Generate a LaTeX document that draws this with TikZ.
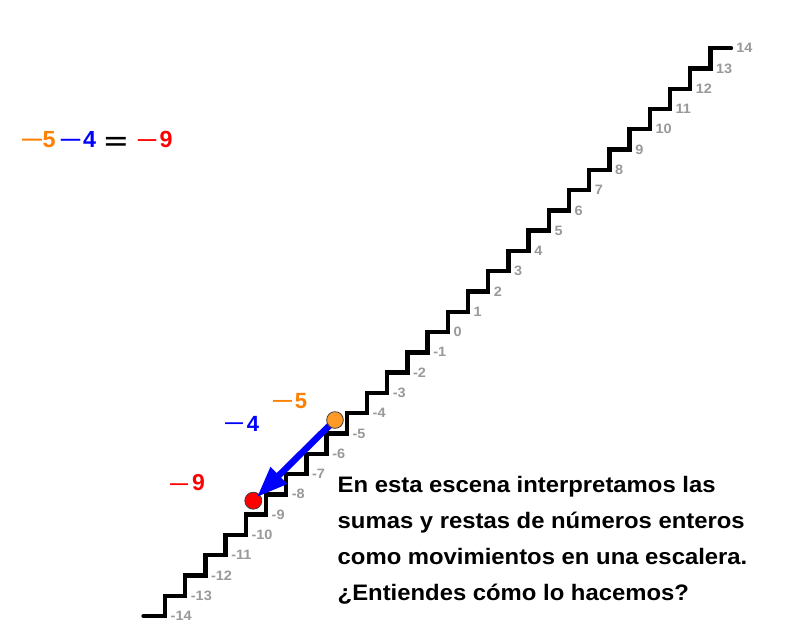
\documentclass[tikz,border=0pt]{standalone}
\usepackage{fontspec}
\usetikzlibrary{arrows.meta}
\newfontfamily\parafont{Liberation Sans}[FakeStretch=1.065]
\newfontfamily\lblfont{Liberation Sans}
\definecolor{eqorange}{RGB}{255,128,0}
\definecolor{dotorange}{RGB}{255,153,40}
\definecolor{eqblue}{RGB}{0,0,255}
\definecolor{eqred}{RGB}{255,0,0}
\definecolor{lblgray}{RGB}{153,153,153}
\tikzset{
  stair/.style={line width=4.4pt, line cap=round, line join=miter},
  steplbl/.style={font=\parafont\bfseries\fontsize{13.6}{13.6}\selectfont, text=lblgray, anchor=base west, inner sep=0pt},
  eqpart/.style={anchor=base, inner sep=0pt},
  eqdigit/.style={eqpart, font=\lblfont\bfseries\fontsize{23.3}{23.3}\selectfont},
  eqminus/.style={eqpart, font=\lblfont\bfseries\fontsize{19.5}{19.5}\selectfont},
  sidedigit/.style={eqpart, font=\lblfont\bfseries\fontsize{22}{22}\selectfont},
  paraline/.style={anchor=base west, inner sep=0pt, font=\parafont\bfseries\fontsize{22.4}{22.4}\selectfont},
  ptdot/.style={circle, inner sep=0pt, minimum size=17pt, draw=black!75, line width=0.8pt},
  vecarrow/.style={draw=eqblue, line width=6.5pt, -{Triangle[length=31pt,width=22pt]}, shorten >=5pt}
}
\begin{document}
\begin{tikzpicture}[x=1pt,y=-1pt]
\path[fill=white] (0,0) rectangle (790,638);
\useasboundingbox (0,0) rectangle (790,638);
% staircase
\draw[stair] (143.5,616)
  \foreach \m in {1,...,28}{ -- ({165+(\m-1)*20.2},{616-(\m-1)*20.28}) -- ({165+(\m-1)*20.2},{616-\m*20.28}) }
  -- (731,{616-28*20.28});
% step labels
\foreach \m in {0,...,28}{
  \pgfmathtruncatemacro\lv{\m-14}
  \node[steplbl] (l\m) at ({165+\m*20.2+5.5},{616-\m*20.28+4.6}) {\lv};
}
% equation
\node[eqminus, text=eqorange, font=\lblfont\bfseries\fontsize{20}{20}\selectfont] (e1) at (32,145.5) {—};
\node[eqdigit, text=eqorange] (e2) at (49,147) {5};
\node[eqminus, text=eqblue] (e3) at (70.5,145.5) {—};
\node[eqdigit, text=eqblue] (e4) at (89.5,147) {4};
\node[eqpart, font=\lblfont\bfseries\fontsize{23.3}{23.3}\selectfont] (e5) at (116,149.5) {\scalebox{1.7}[1]{=}};
\node[eqminus, text=eqred, font=\lblfont\bfseries\fontsize{18.5}{18.5}\selectfont] (e6) at (147,145.5) {—};
\node[eqdigit, text=eqred] (e7) at (166,147) {9};
% side labels
\node[eqminus, text=eqorange, font=\lblfont\bfseries\fontsize{19}{19}\selectfont] (so1) at (282.5,406) {—};
\node[sidedigit, text=eqorange] (so2) at (301,408.5) {5};
\node[eqminus, text=eqblue, font=\lblfont\bfseries\fontsize{18}{18}\selectfont] (sb1) at (234,428.5) {—};
\node[sidedigit, text=eqblue] (sb2) at (253,431.5) {4};
\node[eqminus, text=eqred, font=\lblfont\bfseries\fontsize{18}{18}\selectfont] (sr1) at (179,489) {—};
\node[sidedigit, text=eqred, font=\lblfont\bfseries\fontsize{23}{23}\selectfont] (sr2) at (198.5,490) {9};
% points and vector
\coordinate (oc) at (335,420);
\coordinate (rc) at (253.3,500.7);
\node[ptdot, fill=eqred] (r) at (rc) {};
\draw[vecarrow] (oc) -- (rc);
\node[ptdot, fill=dotorange, minimum size=16.7pt] (o) at (oc) {};
% paragraph
\node[paraline] (p1) at (337.5,492.5) {En esta escena interpretamos las};
\node[paraline] (p2) at (337.5,528.5) {sumas y restas de números enteros};
\node[paraline] (p3) at (337.5,564.5) {como movimientos en una escalera.};
\node[paraline] (p4) at (337.5,600.5) {¿Entiendes cómo lo hacemos?};
\end{tikzpicture}
\end{document}
